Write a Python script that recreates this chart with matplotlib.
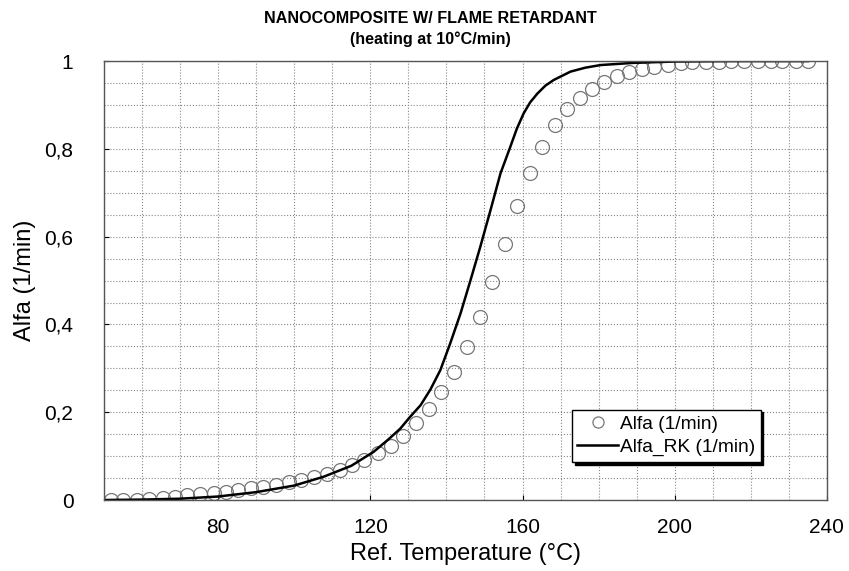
import numpy as np
import matplotlib.pyplot as plt
from matplotlib.ticker import MultipleLocator, FuncFormatter

plt.rcParams['font.family'] = ['Liberation Sans', 'DejaVu Sans']

# measured Alfa (circles)
temp_alfa = [51.8, 55.1, 58.6, 61.9, 65.4, 68.7, 71.9, 75.3, 78.8, 82.1, 85.3, 88.7,
             91.9, 95.3, 98.5, 101.8, 105.1, 108.6, 111.9, 115.2, 118.4, 121.9, 125.3,
             128.7, 132.0, 135.3, 138.7, 142.1, 145.4, 148.8, 152.0, 155.3, 158.6,
             161.9, 165.2, 168.5, 171.8, 175.0, 178.3, 181.4, 184.9, 188.0, 191.5,
             194.6, 198.1, 201.6, 204.6, 208.2, 211.7, 214.8, 218.2, 221.8, 225.3,
             228.3, 231.8, 234.9]
alfa = [0.0, 0.001, 0.001, 0.002, 0.004, 0.008, 0.011, 0.014, 0.017, 0.019, 0.023, 0.027,
        0.030, 0.035, 0.041, 0.046, 0.052, 0.060, 0.069, 0.079, 0.092, 0.107, 0.124,
        0.146, 0.175, 0.208, 0.246, 0.291, 0.348, 0.416, 0.496, 0.583, 0.671,
        0.745, 0.804, 0.854, 0.891, 0.916, 0.936, 0.953, 0.965, 0.976, 0.981,
        0.987, 0.991, 0.995, 0.997, 0.998, 0.999, 1.0, 1.0, 1.0, 1.0,
        1.0, 1.0, 1.0]

# Runge-Kutta model (line)
temp_rk = [50, 60, 70, 80, 90, 100, 107.7, 115, 120.9, 125, 127.9, 130.5, 133.2,
           135.8, 138.4, 141.0, 143.7, 146.3, 148.9, 151.6, 154.2, 156.8, 158.5,
           160.3, 162.0, 163.9, 166.0, 168.2, 172.6, 176.5, 180.5, 189.2, 200, 215, 235]
alfa_rk = [0.0, 0.001, 0.003, 0.008, 0.018, 0.033, 0.053, 0.078, 0.110, 0.140, 0.163,
           0.190, 0.216, 0.252, 0.296, 0.357, 0.425, 0.500, 0.577, 0.661, 0.744,
           0.805, 0.846, 0.881, 0.906, 0.926, 0.944, 0.957, 0.976, 0.985, 0.991,
           0.996, 0.999, 1.0, 1.0]

fig = plt.figure(figsize=(8.49, 5.71), dpi=100)
ax = fig.add_axes([0.1225, 0.1243, 0.8515, 0.7687])

ax.plot(temp_alfa, alfa, linestyle="none", marker="o", markersize=10,
        markerfacecolor="none", markeredgecolor="#777777", markeredgewidth=0.9,
        label="Alfa (1/min)")
ax.plot(temp_rk, alfa_rk, color="black", linewidth=1.8, label="Alfa_RK (1/min)")

ax.set_xlim(50, 240)
ax.set_ylim(0, 1)
ax.xaxis.set_major_locator(MultipleLocator(40))
ax.xaxis.set_minor_locator(MultipleLocator(10))
ax.yaxis.set_major_locator(MultipleLocator(0.2))
ax.yaxis.set_minor_locator(MultipleLocator(0.05))
ax.yaxis.set_major_formatter(FuncFormatter(
    lambda v, p: "0" if abs(v) < 1e-9 else ("1" if abs(v - 1) < 1e-9 else f"{v:.1f}".replace(".", ","))))

ax.grid(True, which="both", linestyle=":", color="#888888", linewidth=0.8)
ax.tick_params(which="both", direction="in", labelsize=15)
ax.tick_params(axis="x", pad=13)
ax.tick_params(axis="y", pad=22)
ax.tick_params(which="minor", length=0)
for s in ax.spines.values():
    s.set_color("#555555")
    s.set_linewidth(1.0)

ax.set_xlabel("Ref. Temperature (°C)", fontsize=17, labelpad=4)
ax.set_ylabel("Alfa (1/min)", fontsize=17, labelpad=6)
fig.text(0.507, 0.968, "NANOCOMPOSITE W/ FLAME RETARDANT", ha="center", va="center",
         fontsize=11.6, fontweight="bold")
fig.text(0.507, 0.932, "(heating at 10°C/min)", ha="center", va="center",
         fontsize=11.6, fontweight="bold")

leg = ax.legend(loc="upper left", bbox_to_anchor=(0.647, 0.206), fontsize=13.8,
                frameon=True, fancybox=False, shadow={"color": "black", "alpha": 1.0},
                borderpad=0.3, labelspacing=0.3, markerscale=0.8,
                handlelength=2.1, handletextpad=0.1, borderaxespad=0)
leg.get_frame().set_edgecolor("black")
leg.get_frame().set_linewidth(1.0)

fig.savefig("out.png", dpi=100)
